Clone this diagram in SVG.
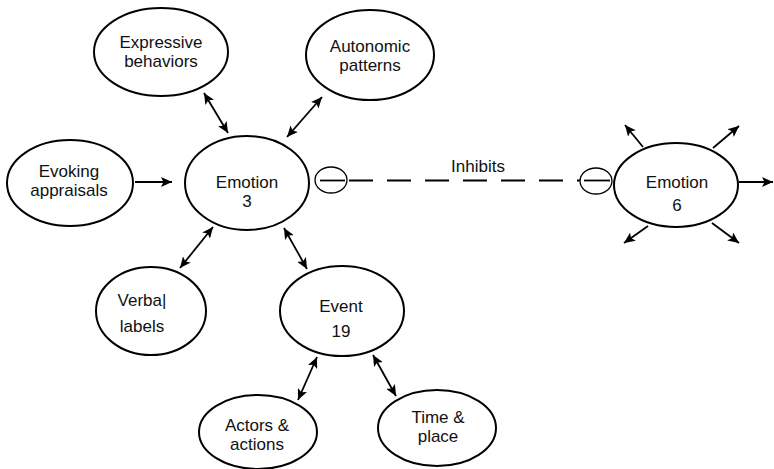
<svg xmlns="http://www.w3.org/2000/svg" width="774" height="469" viewBox="0 0 774 469">
<style>
.n{fill:#fff;stroke:#000;stroke-width:2}
.t{font-family:"Liberation Sans",Arial,sans-serif;font-size:17px;fill:#111;text-anchor:middle}
.c{stroke:#000;stroke-width:1.8;fill:none}
.d{marker-end:url(#ah)}
.b{marker-start:url(#ah);marker-end:url(#ah)}
.m{fill:#fff;stroke:#000;stroke-width:1.3}
</style>
<defs>
<marker id="ah" markerUnits="userSpaceOnUse" markerWidth="12" markerHeight="10" refX="11" refY="5" orient="auto-start-reverse">
<path d="M0,0 L11,5 L0,10 L2.5,5 z" fill="#000"/>
</marker>
</defs>
<rect width="774" height="469" fill="#fff"/>
<g id="connectors">
<line class="c d" x1="135" y1="182" x2="172" y2="182"/>
<line class="c b" x1="204" y1="93" x2="228" y2="133"/>
<line class="c b" x1="322" y1="97" x2="287" y2="137"/>
<line class="c b" x1="213" y1="227" x2="180" y2="268"/>
<line class="c b" x1="284" y1="228" x2="307" y2="269"/>
<line class="c b" x1="317" y1="357" x2="298" y2="400"/>
<line class="c b" x1="373" y1="355" x2="396" y2="396"/>
<line class="c" x1="349" y1="180.5" x2="582" y2="180.5" stroke-dasharray="24,14"/>
<line class="c d" x1="643" y1="147" x2="625" y2="125"/>
<line class="c d" x1="713" y1="148" x2="739" y2="126"/>
<line class="c d" x1="739" y1="182" x2="773" y2="182"/>
<line class="c d" x1="648" y1="226" x2="624" y2="243"/>
<line class="c d" x1="712" y1="223" x2="739" y2="243"/>
</g>
<g id="inhibit-left">
<ellipse class="m" cx="331" cy="180" rx="16" ry="13"/>
<line class="c" x1="320" y1="180.5" x2="345" y2="180.5"/>
</g>
<g id="inhibit-right">
<ellipse class="m" cx="596" cy="181" rx="16" ry="13"/>
<line class="c" x1="584" y1="180.5" x2="610" y2="180.5"/>
</g>
<text class="t" x="478" y="172">Inhibits</text>
<g id="expressive">
<ellipse class="n" cx="161" cy="52" rx="67" ry="44"/>
<text class="t" x="161" y="48">Expressive</text>
<text class="t" x="161" y="67">behaviors</text>
</g>
<g id="autonomic">
<ellipse class="n" cx="370" cy="55" rx="64" ry="45"/>
<text class="t" x="370" y="52">Autonomic</text>
<text class="t" x="370" y="71">patterns</text>
</g>
<g id="evoking">
<ellipse class="n" cx="70" cy="183" rx="63" ry="43"/>
<text class="t" x="69" y="177">Evoking</text>
<text class="t" x="69" y="196">appraisals</text>
</g>
<g id="emotion3">
<ellipse class="n" cx="247" cy="183" rx="62" ry="47"/>
<text class="t" x="247" y="188">Emotion</text>
<text class="t" x="247" y="207">3</text>
</g>
<g id="emotion6">
<ellipse class="n" cx="676" cy="185" rx="62" ry="42"/>
<text class="t" x="677" y="188">Emotion</text>
<text class="t" x="677" y="211">6</text>
</g>
<g id="verbal">
<ellipse class="n" cx="151" cy="311" rx="55" ry="44"/>
<text class="t" x="142" y="306">Verba|</text>
<text class="t" x="142" y="332">labels</text>
</g>
<g id="event">
<ellipse class="n" cx="342" cy="311" rx="62" ry="45"/>
<text class="t" x="341" y="312">Event</text>
<text class="t" x="341" y="337">19</text>
</g>
<g id="actors">
<ellipse class="n" cx="258" cy="432" rx="59" ry="37"/>
<text class="t" x="257" y="431">Actors &amp;</text>
<text class="t" x="257" y="450">actions</text>
</g>
<g id="time">
<ellipse class="n" cx="437" cy="428" rx="59" ry="38"/>
<text class="t" x="438" y="423">Time &amp;</text>
<text class="t" x="438" y="442">place</text>
</g>
</svg>
